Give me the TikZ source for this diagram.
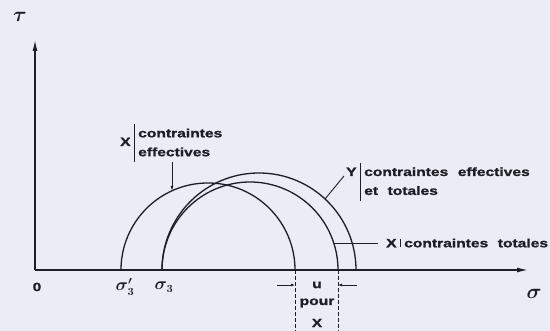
\documentclass[tikz,border=0pt]{standalone}
\usepackage{fontspec}
\usetikzlibrary{arrows.meta}
\newfontfamily\lblfont{Liberation Sans}[FakeStretch=1.3,WordSpace=2.2,BoldFeatures={FakeBold=1.2}]
\definecolor{Paper}{RGB}{234,236,246}
\definecolor{Ink}{HTML}{1E1E24}
\newcommand{\barre}{\hspace{3pt}\vrule width 1.6pt\hspace{3pt}}

\begin{document}
\begin{tikzpicture}[x=1pt,y=1pt,
  axis/.style={Ink,line width=1.3pt,-{Latex[length=11pt,width=5pt]}},
  cercle/.style={Ink,line width=1.3pt},
  lead/.style={Ink,line width=0.9pt},
  cote/.style={Ink,line width=0.9pt,-{Latex[length=4pt,width=3pt]}},
  tiret/.style={Ink,line width=1pt,dash pattern=on 4pt off 2pt},
  lbl/.style={font=\lblfont\bfseries\fontsize{12}{14}\selectfont,text=Ink,inner sep=0pt},
  sym/.style={text=Ink,font=\boldmath\fontsize{#1}{#1}\selectfont}]
\fill[Paper] (0,0) rectangle (550,331);
\useasboundingbox (0,0) rectangle (550,331);
% axes
\coordinate (O) at (35,61);
\coordinate (tauend) at (35,291);
\coordinate (sigend) at (528,61);
\coordinate (bas) at (0,0);
\draw[axis] (O) -- (tauend);
\draw[axis] (O) -- (sigend);
\node[sym=22] (tau) at (20,314) {$\tau$};
\node[sym=22] (sig) at (534,37) {$\sigma$};
\node[lbl] (zero) at (37,44) {0};
\node[sym=16] (s3p) at (125,44) {$\sigma_3'$};
\node[sym=16] (s3) at (164,44) {$\sigma_3$};
% cercles de Mohr
\coordinate (xeffB) at (295,61);
\coordinate (xtotB) at (338,61);
\coordinate (yB) at (356,61);
\draw[cercle] (xeffB) arc[start angle=0,end angle=180,radius=87];
\draw[cercle] (xtotB) arc[start angle=0,end angle=180,radius=88];
\draw[cercle] (yB) arc[start angle=0,end angle=180,radius=97];
% legendes
\node[lbl,anchor=west] (xeff) at (120,188)
  {X\barre\def\arraystretch{1.35}\begin{tabular}{@{}l@{}}contraintes\\effectives\end{tabular}};
\node[lbl,anchor=base west] (ylbl) at (346,155)
  {Y\barre\def\arraystretch{1.35}\begin{tabular}[t]{@{}l@{}}contraintes effectives\\et totales\end{tabular}};
\node[lbl,anchor=west] (xtot) at (386,88) {X\barre contraintes totales};
\coordinate (xeffpt) at (172,140);
\coordinate (ypt) at (325,132);
\coordinate (xtotpt) at (334,88);
\draw[lead,-{Latex[length=5pt,width=3pt]}] (xeff.south -| xeffpt) -- (xeffpt);
\draw[lead] ([xshift=-2pt]ylbl.base west) -- (ypt);
\draw[lead] ([xshift=-8pt]xtot.west) -- (xtotpt);
% u pour X
\coordinate (ugauche) at (277,46);
\coordinate (udroite) at (357,46);
\draw[tiret] (xeffB) -- (xeffB |- bas);
\draw[tiret] (xtotB) -- (xtotB |- bas);
\draw[cote] (ugauche) -- (ugauche -| xeffB);
\draw[cote] (udroite) -- (udroite -| xtotB);
\node[lbl] (u) at (317,46) {u};
\node[lbl] (pour) at (317,28) {pour};
\node[lbl] (ux) at (317,8) {X};
\end{tikzpicture}
\end{document}
